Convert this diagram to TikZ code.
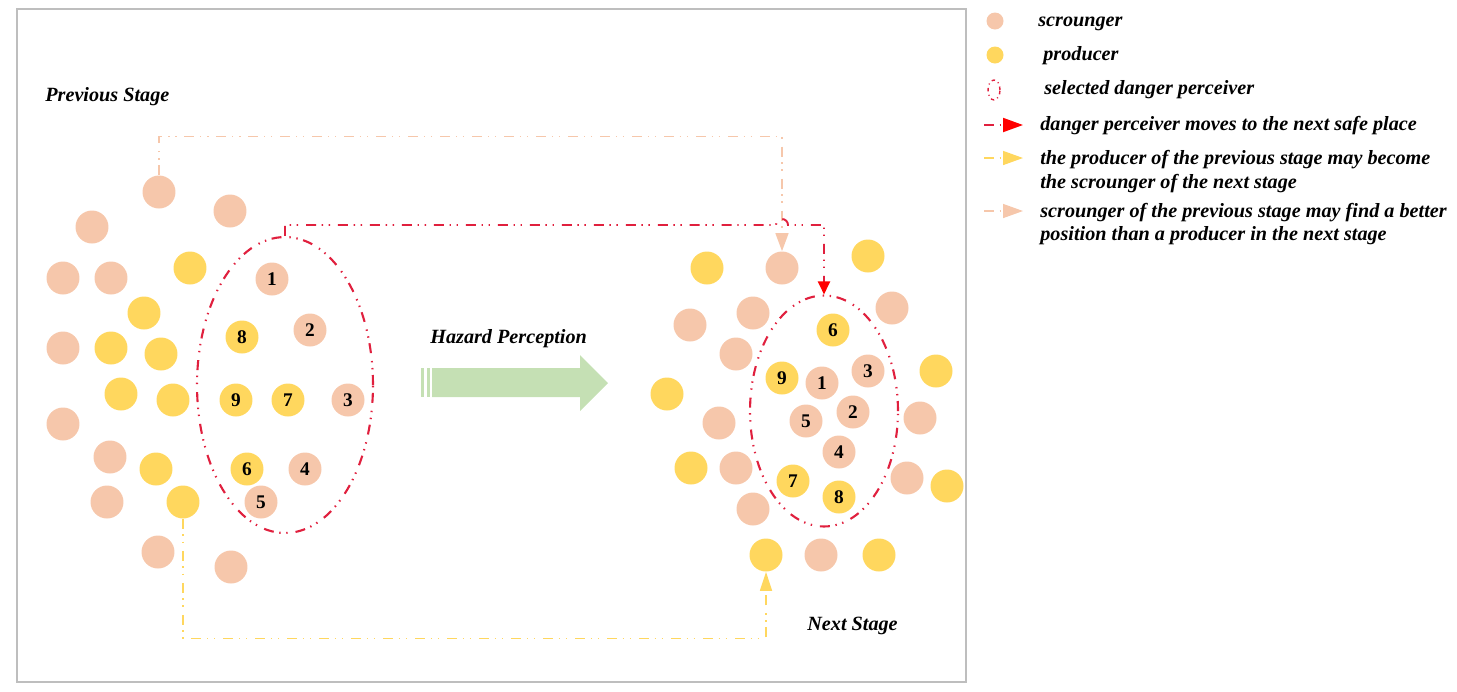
\documentclass[tikz,border=0pt]{standalone}
\usepackage{fontspec}
\setmainfont{Liberation Serif}
\usetikzlibrary{positioning, arrows.meta, shapes.geometric}

\definecolor{scrcol}{RGB}{246,199,171}
\definecolor{prodcol}{RGB}{255,215,94}
\definecolor{dangercol}{RGB}{224,32,62}
\definecolor{hazardcol}{RGB}{197,224,180}
\definecolor{framecol}{RGB}{190,190,190}

\begin{document}
\begin{tikzpicture}[x=0.02cm,y=-0.02cm,
    scrounger/.style={circle,fill=scrcol,minimum size=0.66cm,inner sep=0pt,
                      font=\bfseries\fontsize{11}{11}\selectfont},
    producer/.style={scrounger,fill=prodcol},
    dashdots/.style={dash pattern=on 5.7pt off 3.2pt on 0.8pt off 3.2pt on 0.8pt off 4.5pt},
    perceivers/.style={ellipse,draw=dangercol,line width=1.2pt,dashdots,inner sep=0pt},
    dangerline/.style={draw=dangercol,line width=1.1pt,dashdots,
                       -{Triangle[length=0.26cm,width=0.24cm,fill=red,color=red]}},
    shiftline/.style={draw=prodcol,line width=0.85pt,dashdots,
                      -{Triangle[length=0.38cm,width=0.24cm,fill=prodcol,color=prodcol]}},
    betterline/.style={draw=scrcol,line width=0.85pt,dashdots,
                       -{Triangle[length=0.36cm,width=0.26cm,fill=scrcol,color=scrcol]}},
    label/.style={anchor=base west,inner sep=0pt,
                  font=\bfseries\itshape\fontsize{11.5}{13.6}\selectfont}]

    \useasboundingbox (0,0) rectangle (1457,691);
    \draw[framecol,line width=1.2pt] (17,9) rectangle (966,682);

    % danger perceivers of both stages
    \node[perceivers,minimum width=3.52cm,minimum height=5.92cm] (prev) at (285,385) {};
    \node[perceivers,minimum width=2.96cm,minimum height=4.62cm] (next) at (824,411) {};

    % previous stage
    \foreach \x/\y in {230/211,92/227,63/278,111/278,63/348,63/424,110/457,107/502,158/552,231/567}
        \node[scrounger] at (\x,\y) {};
    \foreach \x/\y in {190/268,144/313,111/348,161/354,121/394,173/400,156/469}
        \node[producer] at (\x,\y) {};
    \node[scrounger] (oldscr) at (159,192) {};
    \node[producer] (oldprod) at (183,502) {};

    \node[scrounger] (p1) at (272,279) {1};
    \node[scrounger] (p2) at (310,330) {2};
    \node[scrounger] (p3) at (348,400) {3};
    \node[scrounger] (p4) at (305,469) {4};
    \node[producer] (p6) at (247,469) {6};
    \node[scrounger] (p5) at (261,502) {5};
    \node[producer] (p7) at (288,400) {7};
    \node[producer] (p8) at (242,337) {8};
    \node[producer] (p9) at (236,400) {9};

    % next stage
    \foreach \x/\y in {690/325,753/313,892/308,736/354,719/423,920/418,736/468,907/478,753/509,821/555}
        \node[scrounger] at (\x,\y) {};
    \foreach \x/\y in {707/268,868/256,936/371,667/394,691/468,947/486,879/555}
        \node[producer] at (\x,\y) {};
    \node[scrounger] (newscr) at (782,268) {};
    \node[producer] (newscrb) at (766,555) {};

    \node[producer] (n6) at (833,330) {6};
    \node[producer] (n9) at (782,378) {9};
    \node[scrounger] (n1) at (822,383) {1};
    \node[scrounger] (n3) at (868,371) {3};
    \node[scrounger] (n5) at (806,421) {5};
    \node[scrounger] (n2) at (853,412) {2};
    \node[scrounger] (n4) at (839,452) {4};
    \node[producer] (n7) at (793,481) {7};
    \node[producer] (n8) at (839,497) {8};

    % moves between the stages
    \draw[betterline] (oldscr.north) -- ++(0,-38.5) -| (newscr.north);
    \draw[dangerline] (prev.north) |- (776,225)
        arc[start angle=180,end angle=0,radius=0.12cm] -| (next.north);
    \draw[shiftline] (oldprod.south) -- ++(0,119.5) -| (newscrb.south);

    % hazard perception arrow
    \fill[hazardcol] (421,368) rectangle (424,397);
    \fill[hazardcol] (426.5,368) rectangle (429.5,397);
    \fill[hazardcol] (432,368) -- (580,368) -- (580,355) -- (608,383)
        -- (580,411) -- (580,397) -- (432,397) -- cycle;

    \node[label] (prevtext) at (45,101) {Previous Stage};
    \node[label] (hazard) at (430,343) {Hazard Perception};
    \node[label] (nexttext) at (807,630) {Next Stage};

    % legend
    \node[scrounger,minimum size=0.34cm] (keyscr) at (995,21) {};
    \node[label] at (1038,26) {scrounger};
    \node[producer,minimum size=0.34cm] (keyprod) at (995,55) {};
    \node[label] at (1043,60) {producer};
    \node[ellipse,draw=dangercol,line width=0.8pt,dash pattern=on 2pt off 2pt on 0.6pt off 2pt,
          minimum width=0.24cm,minimum height=0.4cm,inner sep=0pt] (keysel) at (994,90) {};
    \node[label] at (1044,94) {selected danger perceiver};

    \coordinate (k1a) at (984,125);
    \coordinate (k1b) at (1023,125);
    \draw[dangerline,-{Triangle[length=0.4cm,width=0.28cm,fill=red,color=red]}] (k1a) -- (k1b);
    \node[label] at (1040,130) {danger perceiver moves to the next safe place};

    \coordinate (k2a) at (984,158);
    \coordinate (k2b) at (1023,158);
    \draw[shiftline,-{Triangle[length=0.4cm,width=0.28cm,fill=prodcol,color=prodcol]}] (k2a) -- (k2b);
    \node[label] at (1040,164) {the producer of the previous stage may become};
    \node[label] at (1040,188) {the scrounger of the next stage};

    \coordinate (k3a) at (984,211);
    \coordinate (k3b) at (1023,211);
    \draw[betterline,-{Triangle[length=0.4cm,width=0.28cm,fill=scrcol,color=scrcol]}] (k3a) -- (k3b);
    \node[label] at (1040,217) {scrounger of the previous stage may find a better};
    \node[label] at (1040,240) {position than a producer in the next stage};
\end{tikzpicture}
\end{document}
